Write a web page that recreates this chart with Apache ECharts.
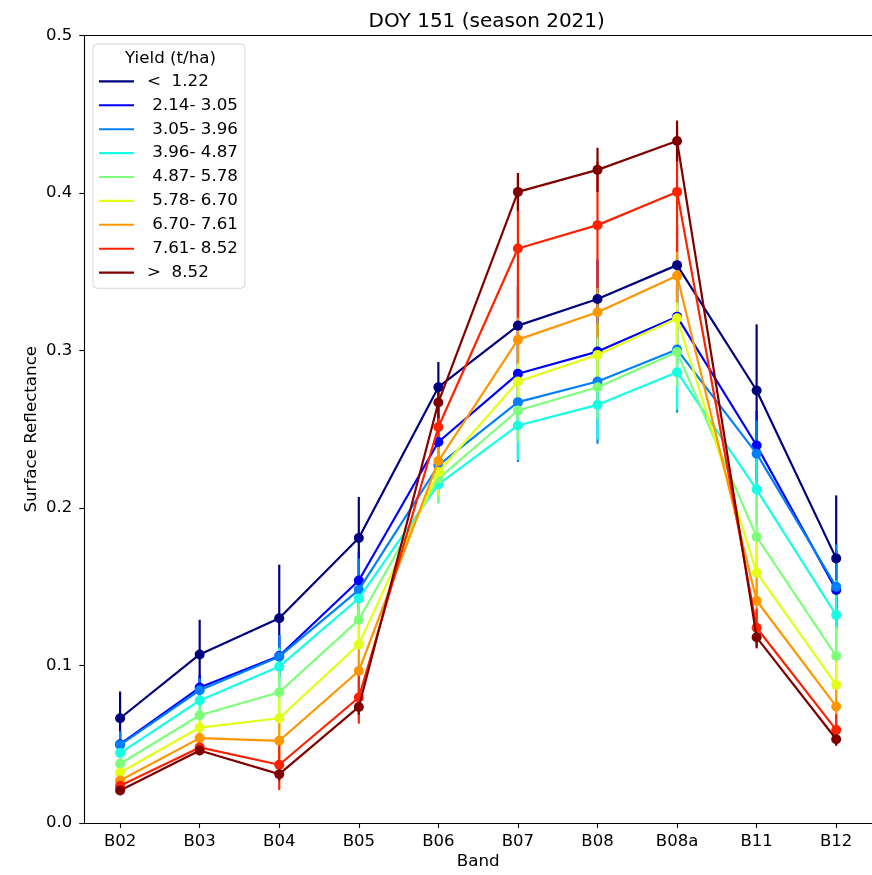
<!DOCTYPE html>
<html>
<head>
<meta charset="utf-8">
<script src="https://cdn.jsdelivr.net/npm/echarts@6/dist/echarts.min.js"></script>
<style>
  html, body { margin: 0; padding: 0; background: #fff; }
  #chart { width: 872px; height: 875px; }
</style>
</head>
<body>
<div id="chart"></div>
<script>
// ---- data ----
const categories = ['B02', 'B03', 'B04', 'B05', 'B06', 'B07', 'B08', 'B08a', 'B11', 'B12'];
const classLabels = ['<  1.22', ' 2.14- 3.05', ' 3.05- 3.96', ' 3.96- 4.87', ' 4.87- 5.78', ' 5.78- 6.70', ' 6.70- 7.61', ' 7.61- 8.52', '>  8.52'];
const classColors = ['#000080', '#0000ff', '#0080ff', '#15ffe2', '#7dff7a', '#e2ff15', '#ff9600', '#ff2200', '#800000'];

const meanLt122   = [0.0665, 0.107, 0.130, 0.181, 0.2767, 0.3158, 0.3327, 0.3542, 0.2746, 0.168];
const mean214_305 = [0.050, 0.086, 0.106, 0.154, 0.2419, 0.2852, 0.2993, 0.3215, 0.2397, 0.148];
const mean305_396 = [0.0496, 0.0843, 0.1056, 0.148, 0.227, 0.2672, 0.2803, 0.3006, 0.2345, 0.150];
const mean396_487 = [0.0444, 0.0778, 0.0993, 0.1426, 0.215, 0.2524, 0.2655, 0.2862, 0.2117, 0.132];
const mean487_578 = [0.0376, 0.0684, 0.083, 0.129, 0.2186, 0.2619, 0.2767, 0.299, 0.1817, 0.106];
const mean578_670 = [0.0321, 0.0606, 0.0665, 0.1134, 0.2229, 0.2803, 0.2972, 0.3205, 0.1589, 0.0877];
const mean670_761 = [0.027, 0.0539, 0.0522, 0.0965, 0.2298, 0.3069, 0.3243, 0.3475, 0.1411, 0.074];
const mean761_852 = [0.0237, 0.048, 0.037, 0.0797, 0.2514, 0.3648, 0.3796, 0.4007, 0.124, 0.0591];
const meanGt852   = [0.0207, 0.046, 0.031, 0.0737, 0.267, 0.4007, 0.4147, 0.433, 0.1179, 0.0532];

const errLt122   = [0.017, 0.022, 0.034, 0.026, 0.016, 0.025, 0.025, 0.025, 0.042, 0.040];
const err214_305 = [0.008, 0.008, 0.013, 0.018, 0.018, 0.030, 0.030, 0.030, 0.022, 0.025];
const err305_396 = [0.0087, 0.0076, 0.0137, 0.020, 0.018, 0.038, 0.0395, 0.040, 0.021, 0.027];
const err396_487 = [0.007, 0.008, 0.012, 0.014, 0.012, 0.022, 0.022, 0.024, 0.022, 0.022];
const err487_578 = [0.006, 0.007, 0.016, 0.012, 0.015, 0.020, 0.020, 0.022, 0.026, 0.019];
const err578_670 = [0.005, 0.006, 0.016, 0.013, 0.015, 0.020, 0.020, 0.020, 0.020, 0.017];
const err670_761 = [0.004, 0.005, 0.015, 0.0145, 0.013, 0.015, 0.016, 0.017, 0.018, 0.0126];
const err761_852 = [0.004, 0.004, 0.016, 0.0166, 0.012, 0.044, 0.040, 0.038, 0.012, 0.010];
const errGt852   = [0.003, 0.003, 0.004, 0.005, 0.010, 0.012, 0.014, 0.013, 0.007, 0.004];

const yTicks = [0, 0.1, 0.2, 0.3, 0.4, 0.5];

const means = [meanLt122, mean214_305, mean305_396, mean396_487, mean487_578, mean578_670, mean670_761, mean761_852, meanGt852];
const errs  = [errLt122, err214_305, err305_396, err396_487, err487_578, err578_670, err670_761, err761_852, errGt852];

// ---- chart ----
const FONT = 'DejaVu Sans';
const catIdx = categories.map((c, i) => i);

const series = [];
// error bars (all beneath lines, as in matplotlib)
means.forEach((m, k) => {
  const color = classColors[k];
  series.push({
    type: 'custom',
    name: 'err' + k,
    z: 1,
    silent: true,
    encode: { x: 0, y: 1 },
    data: m.map((v, i) => [i, v, errs[k][i]]),
    renderItem: (params, api) => {
      const x = api.value(0), v = api.value(1), e = api.value(2);
      const p1 = api.coord([x, v - e]);
      const p2 = api.coord([x, v + e]);
      return {
        type: 'line',
        shape: { x1: p1[0], y1: p1[1], x2: p2[0], y2: p2[1] },
        style: { stroke: color, lineWidth: 2.2 }
      };
    }
  });
});
// lines with markers
means.forEach((m, k) => {
  series.push({
    type: 'line',
    name: classLabels[k],
    z: 2 + k,
    data: m.map((v, i) => [i, v]),
    symbol: 'circle',
    symbolSize: 10,
    showSymbol: true,
    lineStyle: { color: classColors[k], width: 2.2 },
    itemStyle: { color: classColors[k] },
    emphasis: { disabled: true }
  });
});

const chart = echarts.init(document.getElementById('chart'), null, { renderer: 'canvas' });
chart.setOption({
  animation: false,
  backgroundColor: '#ffffff',
  title: {
    text: 'DOY 151 (season 2021)',
    left: 481.7,
    top: 7,
    textAlign: 'center',
    textStyle: { fontFamily: FONT, fontSize: 20, fontWeight: 'normal', color: '#000' }
  },
  grid: { left: 84.3, right: -6.5, top: 35.5, bottom: 50, containLabel: false },
  xAxis: [{
    type: 'value',
    min: -0.45,
    max: 9.45,
    name: 'Band',
    nameLocation: 'middle',
    nameGap: 30,
    nameMoveOverlap: false,
    nameTextStyle: { fontFamily: FONT, fontSize: 16.7, color: '#000' },
    axisLine: { show: true, onZero: false, lineStyle: { color: '#000', width: 1.1 } },
    axisTick: { show: true, length: 5, lineStyle: { color: '#000', width: 1.1 }, customValues: catIdx },
    axisLabel: {
      customValues: catIdx,
      margin: 10,
      fontFamily: FONT, fontSize: 16.5, color: '#000',
      formatter: v => categories[Math.round(v)]
    },
    splitLine: { show: false }
  }, {
    type: 'value',
    min: -0.45,
    max: 9.45,
    position: 'top',
    axisLine: { show: true, onZero: false, lineStyle: { color: '#000', width: 1.1 } },
    axisTick: { show: false },
    axisLabel: { show: false },
    splitLine: { show: false }
  }],
  yAxis: {
    type: 'value',
    min: yTicks[0],
    max: yTicks[yTicks.length - 1],
    interval: 0.1,
    name: 'Surface Reflectance',
    nameLocation: 'middle',
    nameRotate: 90,
    nameGap: 44,
    nameMoveOverlap: false,
    nameTextStyle: { fontFamily: FONT, fontSize: 16.7, color: '#000' },
    axisLine: { show: true, onZero: false, lineStyle: { color: '#000', width: 1.1 } },
    axisTick: { show: true, length: 5, lineStyle: { color: '#000', width: 1.1 } },
    axisLabel: {
      margin: 12,
      fontFamily: FONT, fontSize: 16.5, color: '#000',
      formatter: v => v.toFixed(1)
    },
    splitLine: { show: false }
  },
  legend: {
    data: classLabels,
    orient: 'vertical',
    left: 93,
    top: 44,
    z: 20,
    padding: [27.4, 7, 5.7, 6],
    itemGap: 3.9,
    itemWidth: 35,
    itemHeight: 2.1,
    icon: 'rect',
    selectedMode: false,
    borderColor: '#d6d6d6',
    borderWidth: 1,
    borderRadius: 4,
    backgroundColor: 'rgba(255,255,255,0.8)',
    textStyle: { fontFamily: FONT, fontSize: 16.7, lineHeight: 20, color: '#000', padding: [0, 0, 0, 8] }
  },
  graphic: [{
    type: 'text',
    z: 30,
    style: {
      text: 'Yield (t/ha)',
      x: 170.5,
      y: 59,
      textAlign: 'center',
      textVerticalAlign: 'middle',
      font: '16.7px "DejaVu Sans"',
      fill: '#000'
    }
  }],
  series: series
});
</script>
</body>
</html>
